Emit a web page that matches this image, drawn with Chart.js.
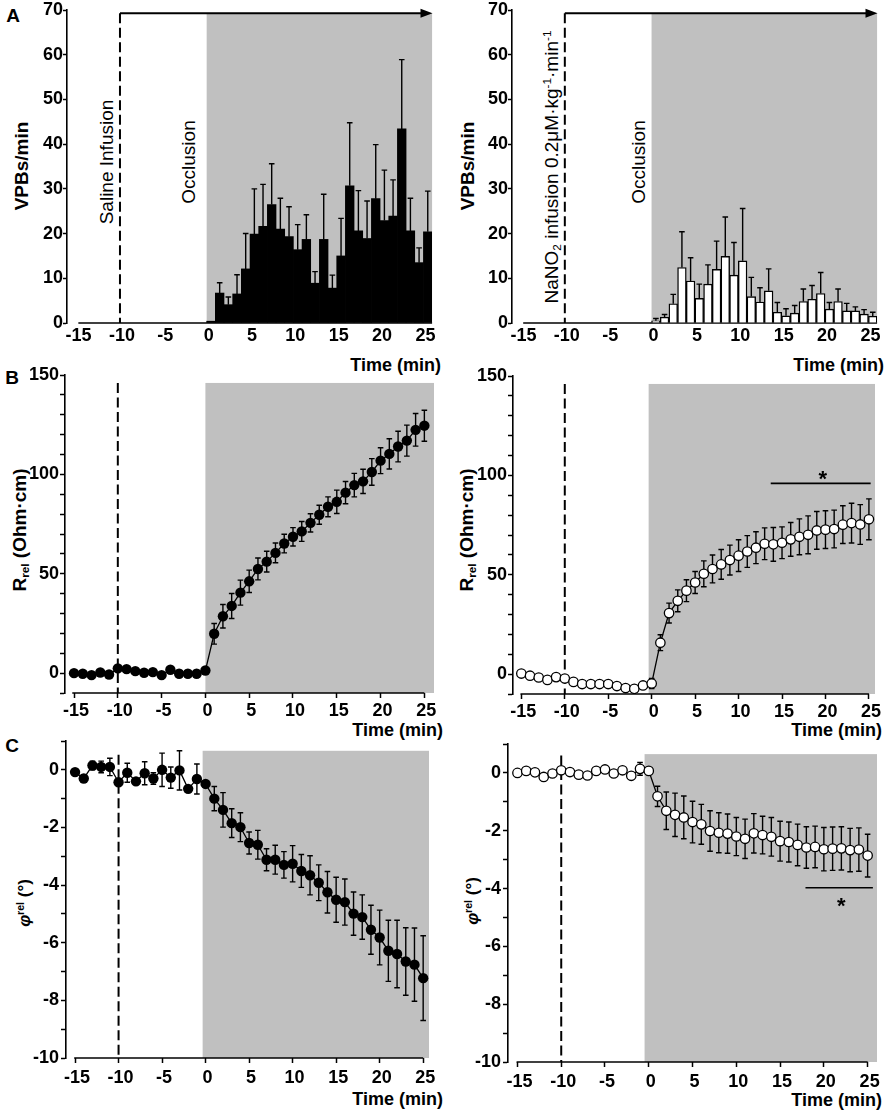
<!DOCTYPE html>
<html><head><meta charset="utf-8">
<script src="https://cdn.jsdelivr.net/npm/chart.js@4.4.0/dist/chart.umd.min.js"></script>
<style>
html,body{margin:0;padding:0;background:#fff;}
body{width:892px;height:1116px;position:relative;overflow:hidden;font-family:'Liberation Sans',Arial,Helvetica,sans-serif;color:#000;}
.pc{position:absolute;}
.pc canvas{display:block;}
.t{position:absolute;white-space:nowrap;line-height:1;}
.rot{transform:translate(-50%,-50%) rotate(-90deg);}
.ctr{transform:translate(-50%,-50%);}
.rt{transform:translateY(-50%);text-align:right;}
.b{font-weight:bold;}
.sb{font-size:0.62em;vertical-align:-0.25em;}
.sp{font-size:0.62em;vertical-align:0.55em;}
</style>
</head><body>

<div class="t b ctr" style="left:13px;top:15px;font-size:19px;">A</div>
<div class="t b ctr" style="left:12px;top:377px;font-size:19px;">B</div>
<div class="t b ctr" style="left:12px;top:745px;font-size:19px;">C</div>

<div class="t b rot" style="left:21px;top:166px;font-size:19px;">VPBs/min</div>
<div class="t b rot" style="left:467px;top:166px;font-size:19px;">VPBs/min</div>
<div class="t b rot" style="left:20px;top:530px;font-size:19px;">R<span class="sb">rel</span> (Ohm·cm)</div>
<div class="t b rot" style="left:467px;top:530px;font-size:19px;">R<span class="sb">rel</span> (Ohm·cm)</div>
<div class="t b rot" style="left:24px;top:903px;font-size:17px;"><i>φ</i><span class="sp">rel</span> (°)</div>
<div class="t b rot" style="left:472px;top:901px;font-size:17px;"><i>φ</i><span class="sp">rel</span> (°)</div>

<div class="t rot" style="left:106px;top:162px;font-size:19px;">Saline Infusion</div>
<div class="t rot" style="left:188px;top:162px;font-size:19px;">Occlusion</div>
<div class="t rot" style="left:552px;top:167px;font-size:19px;">NaNO<span class="sb">2</span> infusion 0.2μM·kg<span class="sp">-1</span>·min<span class="sp">-1</span></div>
<div class="t rot" style="left:638px;top:162px;font-size:19px;">Occlusion</div>

<div class="t b rt" style="right:451px;top:365px;font-size:18px;">Time (min)</div>
<div class="t b rt" style="right:8px;top:365px;font-size:18px;">Time (min)</div>
<div class="t b rt" style="right:449px;top:730px;font-size:18px;">Time (min)</div>
<div class="t b rt" style="right:10px;top:730px;font-size:18px;">Time (min)</div>
<div class="t b rt" style="right:449px;top:1099px;font-size:18px;">Time (min)</div>
<div class="t b rt" style="right:10px;top:1100px;font-size:18px;">Time (min)</div>

<script>
// ---------------- DATA ----------------
// Panel A: VPBs per minute bin (bin centres, min)
const binMinutes = [0.5,1.5,2.5,3.5,4.5,5.5,6.5,7.5,8.5,9.5,10.5,11.5,12.5,13.5,14.5,15.5,16.5,17.5,18.5,19.5,20.5,21.5,22.5,23.5,24.5,25.5];
const salineVPB    = [0.4,6.7,4.1,6.5,12.1,19.9,21.6,26.5,21.0,19.3,16.4,18.7,8.9,18.7,7.8,15.0,30.7,20.6,18.9,27.8,22.9,23.9,43.4,20.6,13.5,20.4];
const salineVPBErr = [0.0,2.3,1.7,4.3,7.9,10.1,9.4,9.1,6.9,6.7,5.6,5.5,2.6,10.1,2.9,8.4,14.1,9.0,8.4,12.1,11.3,8.1,15.5,7.3,3.3,9.1];
const nitriteVPB    = [0.5,1.3,4.3,12.4,9.4,5.5,8.7,12.0,14.9,10.7,13.9,5.9,4.7,7.2,2.4,1.6,2.2,4.8,5.3,6.6,3.1,4.8,2.7,2.7,2.0,1.5];
const nitriteVPBErr = [0.5,0.6,2.1,8.0,5.2,3.2,4.3,6.3,8.8,7.3,11.7,4.3,3.2,4.9,2.2,1.6,1.7,2.8,3.1,4.7,1.5,2.8,1.7,0.9,1.0,0.9];

// Panels B, C: time points (min)
const timeMin = [-15,-14,-13,-12,-11,-10,-9,-8,-7,-6,-5,-4,-3,-2,-1,0,1,2,3,4,5,6,7,8,9,10,11,12,13,14,15,16,17,18,19,20,21,22,23,24,25];
// Panel B: R_rel (Ohm·cm)
const salineR    = [0,-0.3,-1,0.3,-0.7,2.4,2,1,0.2,0.5,-1,1.7,-0.3,-0.3,-0.3,1.3,19.8,28.6,33.8,40.5,46.2,52.4,56.1,60.5,65.2,68.6,71.3,75.6,79.7,83.7,86.2,90.8,94.6,96.5,101.2,106.9,110.3,114.0,117.0,122.4,124.5];
const salineRErr = [0.5,0.5,0.5,0.5,0.5,0.5,0.5,0.5,0.5,0.5,0.5,0.8,1.7,1.7,1.7,1.0,5.2,5.9,6.3,6.3,5.6,5.5,5.2,5.0,4.7,4.6,5.0,4.6,4.8,5.0,5.9,5.6,5.9,6.1,6.7,6.5,7.6,7.7,7.8,8.2,7.8];
const nitriteR    = [0.3,-0.8,-1.7,-2.9,-1.5,-2.2,-3.9,-5,-5,-5,-5,-6,-7,-7.4,-5.7,-4.7,15.8,30.7,36.9,42.0,46.1,50.5,52.9,55.2,57.4,59.6,61.7,63.6,65.6,65.3,66.1,67.8,69.1,70.1,72.3,72.7,73.0,75.2,76.0,75.3,77.9];
const nitriteRErr = [0.5,0.5,0.5,0.5,0.5,0.5,0.5,0.5,0.5,0.5,1.5,1.5,0.5,0.5,0.5,2.5,4,5,5.5,5.5,5.5,6.5,7,7.5,7.5,8,8,8,8,8.5,8,8.5,9,9.5,9.5,9.5,9.5,9.5,10,10,10.3];
// Panel C: phi_rel (deg)
const salinePhi    = [-0.08,-0.3,0.15,0.1,0.1,-0.43,-0.1,-0.4,-0.12,-0.3,0,-0.27,-0.02,-0.66,-0.32,-0.49,-1.0,-1.39,-1.85,-1.99,-2.54,-2.6,-3.12,-3.12,-3.3,-3.26,-3.51,-3.66,-3.92,-4.25,-4.51,-4.59,-4.99,-5.11,-5.55,-5.82,-6.28,-6.39,-6.65,-6.76,-7.23];
const salinePhiErr = [0.08,0.12,0.15,0.2,0.3,0.08,0.33,0.08,0.4,0.2,0.58,0.37,0.68,0.08,0.52,0.08,0.42,0.6,0.5,0.5,0.38,0.5,0.38,0.5,0.46,0.63,0.57,0.68,0.62,0.72,0.78,0.8,0.75,0.77,0.85,0.95,1.06,1.17,1.17,1.27,1.47];
const nitritePhi    = [0.0,0.07,0.02,-0.14,-0.02,0.09,0.03,-0.06,-0.09,0.07,0.12,-0.02,0.09,-0.1,0.14,0.07,-0.81,-1.31,-1.45,-1.54,-1.7,-1.78,-2.01,-2.07,-2.1,-2.2,-2.28,-2.09,-2.15,-2.21,-2.36,-2.39,-2.49,-2.58,-2.56,-2.64,-2.62,-2.61,-2.67,-2.65,-2.86];
const nitritePhiErr = [0.05,0.05,0.05,0.05,0.05,0.05,0.05,0.05,0.05,0.05,0.05,0.05,0.05,0.05,0.22,0.1,0.35,0.65,0.75,0.74,0.72,0.69,0.7,0.69,0.68,0.66,0.68,0.68,0.65,0.67,0.69,0.69,0.72,0.72,0.72,0.75,0.75,0.75,0.75,0.75,0.74];

// event markers (min)
const infusionStart = -10;
const occlusionStart = 0;

// ---------------- RENDERING ----------------
const FONT = "'Liberation Sans', Arial, Helvetica, sans-serif";
const GRAY = '#c0c0c0';
const Wy = 50, padT = 14, padR = 14, Hx = 30, padB = 2;

function decor(c){
  function errBars(chart){
    const {ctx, scales:{y}} = chart;
    const meta = chart.getDatasetMeta(0);
    ctx.save();
    ctx.strokeStyle = '#000'; ctx.lineWidth = 1.4;
    meta.data.forEach((el,i)=>{
      const v = c.vals[i], e = c.errs[i];
      if (!e) return;
      const px = el.x;
      const yTop = y.getPixelForValue(v + e);
      const yBot = c.errMode === 'up' ? y.getPixelForValue(v) : y.getPixelForValue(v - e);
      ctx.beginPath();
      ctx.moveTo(px, yTop); ctx.lineTo(px, yBot);
      ctx.moveTo(px-2.8, yTop); ctx.lineTo(px+2.8, yTop);
      if (c.errMode !== 'up') { ctx.moveTo(px-2.8, yBot); ctx.lineTo(px+2.8, yBot); }
      ctx.stroke();
    });
    ctx.restore();
  }
  return {
    id:'decor',
    beforeDatasetsDraw(chart){
      const {ctx, chartArea:a, scales:{x,y}} = chart;
      ctx.save();
      const sx0 = x.getPixelForValue(c.shade[0]), sx1 = x.getPixelForValue(c.shade[1]);
      const sy = y.getPixelForValue(c.shade[2]);
      ctx.fillStyle = GRAY;
      ctx.fillRect(sx0, sy, sx1 - sx0, a.bottom - sy);
      // dashed infusion line
      const dx = x.getPixelForValue(infusionStart);
      ctx.strokeStyle = '#000'; ctx.lineWidth = 2; ctx.setLineDash([10,4.5]);
      ctx.beginPath(); ctx.moveTo(dx, y.getPixelForValue(c.dashTop)); ctx.lineTo(dx, a.bottom); ctx.stroke();
      ctx.setLineDash([]);
      // x axis line
      ctx.lineWidth = 1.6;
      ctx.beginPath(); ctx.moveTo(x.getPixelForValue(c.axis[0]), a.bottom); ctx.lineTo(x.getPixelForValue(c.axis[1]), a.bottom); ctx.stroke();
      // arrow
      if (c.arrow) {
        const ay = y.getPixelForValue(c.arrow[2]);
        const ax0 = x.getPixelForValue(c.arrow[0]), ax1 = x.getPixelForValue(c.arrow[1]);
        ctx.lineWidth = 2;
        ctx.beginPath(); ctx.moveTo(ax0, ay); ctx.lineTo(ax1 - 8, ay); ctx.stroke();
        ctx.fillStyle = '#000';
        ctx.beginPath(); ctx.moveTo(ax1, ay); ctx.lineTo(ax1 - 12, ay - 4.5); ctx.lineTo(ax1 - 12, ay + 4.5); ctx.closePath(); ctx.fill();
      }
      ctx.restore();
      if (c.errMode === 'both') errBars(chart);
    },
    afterDatasetsDraw(chart){
      if (c.errMode === 'up') errBars(chart);
      if (c.sig) {
        const {ctx, scales:{x,y}} = chart;
        ctx.save();
        ctx.strokeStyle = '#000'; ctx.lineWidth = 1.6;
        const ly = y.getPixelForValue(c.sig[2]);
        ctx.beginPath(); ctx.moveTo(x.getPixelForValue(c.sig[0]), ly); ctx.lineTo(x.getPixelForValue(c.sig[1]), ly); ctx.stroke();
        ctx.fillStyle = '#000';
        ctx.font = 'bold 22px ' + FONT;
        ctx.textAlign = 'center'; ctx.textBaseline = 'alphabetic';
        ctx.fillText('*', x.getPixelForValue(c.sig[3]), y.getPixelForValue(c.sig[4]) + 12.5);
        ctx.restore();
      }
    }
  };
}

function makePanel(c){
  const a = c.area;
  const cl = a.left - Wy, ct = a.top - padT;
  const cw = Math.round(a.right + padR - cl), ch = Math.round(a.bottom + Hx + padB - ct);
  const div = document.createElement('div');
  div.className = 'pc';
  div.style.left = cl + 'px'; div.style.top = ct + 'px';
  div.style.width = cw + 'px'; div.style.height = ch + 'px';
  const cv = document.createElement('canvas');
  cv.width = cw; cv.height = ch;
  cv.style.width = cw + 'px'; cv.style.height = ch + 'px';
  div.appendChild(cv);
  document.body.appendChild(div);

  const tickFont = {family: FONT, size: 18, weight: 'bold'};
  let ds;
  if (c.type === 'bar') {
    ds = {
      data: c.xs.map((m,i)=>({x:m, y:c.vals[i]})),
      backgroundColor: c.fill, borderColor: '#000', borderWidth: c.fill === '#000' ? 0 : 1.4,
      barPercentage: 1, categoryPercentage: 1
    };
  } else {
    const filled = c.fill === '#000';
    ds = {
      data: c.xs.map((m,i)=>({x:m, y:c.vals[i]})),
      borderColor: '#000', borderWidth: 1.3, tension: 0,
      pointRadius: filled ? 5.2 : 4.7, pointBackgroundColor: c.fill, pointBorderColor: '#000', pointBorderWidth: filled ? 0 : 1.3
    };
  }
  new Chart(cv, {
    type: c.type,
    data: {datasets: [ds]},
    options: {
      responsive: false, maintainAspectRatio: false, animation: false,
      layout: {padding: {left: 0, top: padT, right: padR, bottom: padB}},
      plugins: {legend: {display: false}, tooltip: {enabled: false}},
      scales: {
        x: {
          type: 'linear', min: c.xr[0], max: c.xr[1], offset: false,
          afterFit: s => { s.height = Hx; },
          border: {display: false},
          grid: {display: true, drawOnChartArea: false, drawTicks: c.xTicks, tickLength: 5, tickWidth: 1.5, color: '#000', offset: false},
          ticks: {stepSize: 5, includeBounds: false, autoSkip: false, maxRotation: 0, minRotation: 0, color: '#000', font: tickFont, padding: c.xPad, labelOffset: 2}
        },
        y: {
          type: 'linear', min: c.yr[0], max: c.yr[1],
          afterFit: s => { s.width = Wy; },
          border: {display: true, color: '#000', width: 1.6},
          grid: {display: true, drawOnChartArea: false, drawTicks: true, tickLength: c.yTick, tickWidth: 1.5, color: '#000'},
          ticks: {stepSize: c.yStep, includeBounds: false, autoSkip: false, color: '#000', font: tickFont, padding: c.yPad, callback: c.yLab}
        }
      }
    },
    plugins: [decor(c)]
  });
}

const labAll = v => v;
const labB = v => (v >= 0 && v % 50 === 0) ? v : '';
const labC = v => (Math.round(v) % 2 === 0) ? Math.round(v) : '';

// A left
makePanel({type:'bar', area:{left:67, top:10, right:432, bottom:323}, xr:[-16.11, 25.99], yr:[0,70], yStep:10, yLab:labAll,
  xs:binMinutes, vals:salineVPB, errs:salineVPBErr, errMode:'up', fill:'#000',
  shade:[occlusionStart, 26, 69.3], dashTop:69.3, axis:[-14.8, 26], arrow:[infusionStart, 26.05, 69.3],
  xTicks:false, xPad:2, yTick:4, yPad:0});
// A right
makePanel({type:'bar', area:{left:512.3, top:10, right:877.3, bottom:323.3}, xr:[-16.09, 25.99], yr:[0,70], yStep:10, yLab:labAll,
  xs:binMinutes, vals:nitriteVPB, errs:nitriteVPBErr, errMode:'up', fill:'#fff',
  shade:[occlusionStart, 26, 69.3], dashTop:69.3, axis:[-14.8, 26], arrow:[infusionStart, 26.05, 69.3],
  xTicks:false, xPad:2, yTick:4, yPad:0});
// B left
makePanel({type:'line', area:{left:65, top:375, right:434, bottom:692.5}, xr:[-16.03, 26.1], yr:[-10,150], yStep:10, yLab:labB,
  xs:timeMin, vals:salineR, errs:salineRErr, errMode:'both', fill:'#000',
  shade:[occlusionStart, 26.1, 146], dashTop:146, axis:[-15.2, 25],
  xTicks:true, xPad:2.5, yTick:5, yPad:1});
// B right
makePanel({type:'line', area:{left:513.3, top:376, right:875.7, bottom:693.5}, xr:[-15.96, 25.7], yr:[-10,150], yStep:10, yLab:labB,
  xs:timeMin, vals:nitriteR, errs:nitriteRErr, errMode:'both', fill:'#fff',
  shade:[-0.35, 25.7, 146], dashTop:146, axis:[-15.1, 25], sig:[13.7, 25.2, 96, 19.7, 101],
  xTicks:true, xPad:2.5, yTick:5, yPad:1});
// C left
makePanel({type:'line', area:{left:66, top:741.2, right:429.3, bottom:1058.3}, xr:[-16.04, 25.67], yr:[-10,1], yStep:1, yLab:labC,
  xs:timeMin, vals:salinePhi, errs:salinePhiErr, errMode:'both', fill:'#000',
  shade:[-0.34, 25.67, 0.66], dashTop:0.52, axis:[-15.1, 25],
  xTicks:true, xPad:4, yTick:5, yPad:2});
// C right
makePanel({type:'line', area:{left:508.3, top:743.8, right:877.7, bottom:1061.7}, xr:[-16.08, 26.07], yr:[-10,1], yStep:1, yLab:labC,
  xs:timeMin, vals:nitritePhi, errs:nitritePhiErr, errMode:'both', fill:'#fff',
  shade:[-0.48, 26.07, 0.65], dashTop:0.6, axis:[-15.1, 25], sig:[17.9, 25.6, -3.97, 22, -4.4],
  xTicks:true, xPad:4, yTick:5, yPad:2});
</script>
</body></html>
